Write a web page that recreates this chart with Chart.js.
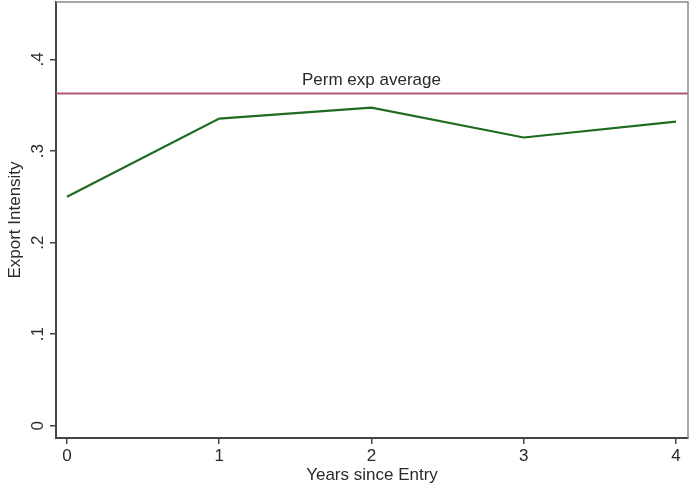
<!DOCTYPE html>
<html>
<head>
<meta charset="utf-8">
<script src="https://cdn.jsdelivr.net/npm/chart.js@4"></script>
<style>
  html, body { margin: 0; padding: 0; background: #fff; }
  canvas { display: block; }
</style>
</head>
<body>
<canvas id="chart" width="690" height="487"></canvas>
<script>
const years = [0, 1, 2, 3, 4];
const intensity = [0.250, 0.3355, 0.3475, 0.3148, 0.3322];
const permAverage = 0.3628;
const yTicks = [0, 0.1, 0.2, 0.3, 0.4];
const avgLabel = "Perm exp average";

const FONT = "'Liberation Sans', Arial, sans-serif";
const TXT = "#2a2a2a";

function fmt(v){
  if(v === 0) return "0";
  return String(Math.round(v*10)/10).replace(/^0/, "");
}

// frame, reference line and rotated y labels
const extras = {
  id: "extras",
  beforeDatasetsDraw(chart){
    const {ctx, chartArea:a, scales} = chart;
    const y = scales.y.getPixelForValue(permAverage);
    ctx.save();
    ctx.strokeStyle = "#b0577a";
    ctx.lineWidth = 2;
    ctx.beginPath();
    ctx.moveTo(a.left, y);
    ctx.lineTo(a.right, y);
    ctx.stroke();
    ctx.fillStyle = TXT;
    ctx.font = "17px " + FONT;
    ctx.textAlign = "center";
    ctx.textBaseline = "bottom";
    ctx.fillText(avgLabel, scales.x.getPixelForValue(2), y - 5);
    ctx.restore();
  },
  afterDraw(chart){
    const {ctx, chartArea:a, scales} = chart;
    ctx.save();
    ctx.strokeStyle = "#8a8a8a";
    ctx.lineWidth = 1.5;
    ctx.beginPath();
    ctx.moveTo(a.left, a.top);
    ctx.lineTo(a.right, a.top);
    ctx.lineTo(a.right, a.bottom);
    ctx.stroke();
    ctx.fillStyle = TXT;
    ctx.font = "17px " + FONT;
    ctx.textAlign = "center";
    ctx.textBaseline = "middle";
    yTicks.forEach(t => {
      const py = scales.y.getPixelForValue(t);
      ctx.save();
      ctx.translate(38, py);
      ctx.rotate(-Math.PI/2);
      ctx.fillText(fmt(t), 0, 0);
      ctx.restore();
    });
    ctx.restore();
  }
};

new Chart(document.getElementById("chart"), {
  type: "line",
  data: {
    datasets: [{
      data: years.map((x,i) => ({x:x, y:intensity[i]})),
      borderColor: "#1f6b1f",
      borderWidth: 2.2,
      pointRadius: 0,
      fill: false,
      tension: 0
    }]
  },
  options: {
    responsive: false,
    animation: false,
    layout: { padding: { top: 2, right: 2, left: 0, bottom: 0 } },
    plugins: { legend: { display: false }, tooltip: { enabled: false } },
    scales: {
      x: {
        type: "linear",
        min: -0.072,
        max: 4.079,
        afterBuildTicks: s => { s.ticks = years.map(v => ({value:v})); },
        afterFit: s => { s.height = 49; },
        grid: { drawOnChartArea: false, drawTicks: true, tickLength: 6, color: "#444", lineWidth: 1.5 },
        border: { color: "#444", width: 2 },
        ticks: { color: TXT, font: { family: FONT, size: 17 }, padding: 2, maxRotation: 0,
                 callback: v => String(v) },
        title: { display: true, text: "Years since Entry", color: TXT,
                 font: { family: FONT, size: 17 }, padding: { top: 0, bottom: 1 } }
      },
      y: {
        type: "linear",
        min: -0.0134,
        max: 0.4628,
        afterBuildTicks: s => { s.ticks = yTicks.map(v => ({value:v})); },
        afterFit: s => { s.width = 56; },
        grid: { drawOnChartArea: false, drawTicks: true, tickLength: 6, color: "#444", lineWidth: 1.5 },
        border: { color: "#444", width: 2 },
        ticks: { display: false },
        title: { display: true, text: "Export Intensity", color: TXT,
                 font: { family: FONT, size: 17 }, padding: { top: 5, bottom: 0 } }
      }
    }
  },
  plugins: [extras]
});
</script>
</body>
</html>
